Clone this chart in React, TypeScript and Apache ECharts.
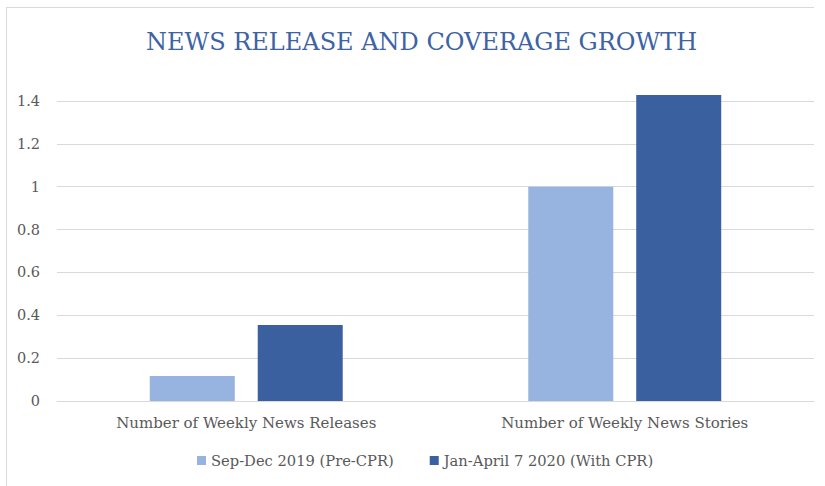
import React, { useEffect, useRef } from "react";
import * as echarts from "echarts";

const categories = ["Number of Weekly News Releases", "Number of Weekly News Stories"];
const seriesNames = ["Sep-Dec 2019 (Pre-CPR)", "Jan-April 7 2020 (With CPR)"];
const preCPR = [0.117, 1.0];
const withCPR = [0.355, 1.428];
const colors = ["#97b3df", "#3a60a0"];

export default function App() {
  const ref = useRef<HTMLDivElement>(null);
  useEffect(() => {
    const chart = echarts.init(ref.current!, null, { renderer: "svg" });
    const font = "'DejaVu Serif', 'Liberation Serif', serif";
    chart.setOption({
      animation: false,
      backgroundColor: "#ffffff",
      textStyle: { fontFamily: font },
      title: {
        text: "NEWS RELEASE AND COVERAGE GROWTH",
        left: 141,
        top: 25,
        textStyle: { fontFamily: font, fontSize: 24, fontWeight: "normal", color: "#3d63a5" },
      },
      graphic: [
        { type: "line", shape: { x1: 6, y1: 7.5, x2: 814, y2: 7.5 }, style: { stroke: "#d9d9d9", lineWidth: 1 } },
        { type: "line", shape: { x1: 6.5, y1: 7, x2: 6.5, y2: 486 }, style: { stroke: "#d9d9d9", lineWidth: 1 } },
      ],
      legend: {
        bottom: 13,
        left: 192,
        itemWidth: 9,
        itemHeight: 9,
        itemGap: 36,
        icon: "rect",
        textStyle: { fontFamily: font, fontSize: 14.7, color: "#595959" },
        data: seriesNames,
      },
      grid: { left: 57, right: 11, top: 101, bottom: 85, containLabel: false },
      xAxis: {
        type: "category",
        data: categories,
        axisLine: { show: true, lineStyle: { color: "#d9d9d9" } },
        axisTick: { show: false },
        axisLabel: { fontFamily: font, fontSize: 15, color: "#595959", margin: 14 },
      },
      yAxis: {
        type: "value",
        min: 0,
        max: 1.4,
        interval: 0.2,
        axisLine: { show: false },
        axisTick: { show: false },
        splitLine: { lineStyle: { color: "#d9d9d9" } },
        axisLabel: {
          fontFamily: font,
          fontSize: 14.5,
          color: "#595959",
          margin: 17,
          formatter: (v: number) => String(Math.round(v * 10) / 10),
        },
      },
      series: [
        {
          name: seriesNames[0],
          type: "bar",
          data: preCPR,
          barWidth: 85,
          barGap: "27%",
          clip: false,
          itemStyle: { color: colors[0] },
        },
        {
          name: seriesNames[1],
          type: "bar",
          data: withCPR,
          barWidth: 85,
          barGap: "27%",
          clip: false,
          itemStyle: { color: colors[1] },
        },
      ],
    });
    return () => chart.dispose();
  }, []);
  return (
    <div
      ref={ref}
      style={{ position: "fixed", left: 0, top: 0, width: 825, height: 486 }}
    />
  );
}
